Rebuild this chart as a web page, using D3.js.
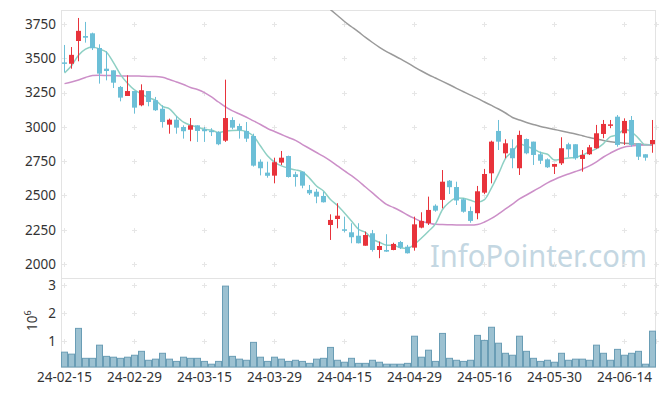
<!DOCTYPE html>
<html>
<head>
<meta charset="utf-8">
<script src="https://cdn.jsdelivr.net/npm/d3@7"></script>
<style>
  body { margin: 0; background: #fff; }
  svg { display: block; font-family: 'Noto Sans', sans-serif; }
</style>
</head>
<body>
<svg id="chart" width="665" height="396"></svg>
<script>
// trading days
let dates = [
  '24-02-15','24-02-16','24-02-19','24-02-20','24-02-21','24-02-22','24-02-23','24-02-26','24-02-27','24-02-28',
  '24-02-29','24-03-04','24-03-05','24-03-06','24-03-07','24-03-08','24-03-11','24-03-12','24-03-13','24-03-14',
  '24-03-15','24-03-18','24-03-19','24-03-20','24-03-21','24-03-22','24-03-25','24-03-26','24-03-27','24-03-28',
  '24-03-29','24-04-01','24-04-02','24-04-03','24-04-04','24-04-05','24-04-08','24-04-09','24-04-11','24-04-12',
  '24-04-15','24-04-16','24-04-17','24-04-18','24-04-19','24-04-22','24-04-23','24-04-24','24-04-25','24-04-26',
  '24-04-29','24-04-30','24-05-02','24-05-03','24-05-07','24-05-08','24-05-09','24-05-10','24-05-13','24-05-14',
  '24-05-16','24-05-17','24-05-20','24-05-21','24-05-22','24-05-23','24-05-24','24-05-27','24-05-28','24-05-29',
  '24-05-30','24-05-31','24-06-03','24-06-04','24-06-05','24-06-07','24-06-10','24-06-11','24-06-12','24-06-13',
  '24-06-14','24-06-17','24-06-18','24-06-19','24-06-20'
]

let opens = [
  3470,3460,3626,3662,3682,3575,3424,3412,3291,3225,
  3261,3157,3261,3194,3132,3016,3052,2999,2979,3011,
  2982,2972,2962,2899,3050,3006,2970,2933,2746,2666,
  2644,2739,2787,2654,2673,2540,2527,2496,2284,2328,
  2253,2231,2206,2133,2224,2102,2102,2102,2160,2126,
  2119,2265,2297,2425,2467,2607,2561,2472,2386,2370,
  2520,2661,2970,2807,2844,2698,2911,2892,2800,2763,
  2709,2734,2873,2873,2766,2800,2844,2948,3010,3074,
  2953,3050,2880,2800,2873
]
let closes = [
  3465,3525,3700,3650,3573,3388,3407,3322,3213,3261,
  3140,3267,3181,3121,3035,3052,2994,2968,3011,2970,
  2968,2968,2873,3064,2994,2975,2914,2717,2698,2643,
  2742,2775,2634,2634,2571,2515,2491,2450,2321,2352,
  2248,2195,2151,2211,2102,2131,2090,2146,2119,2078,
  2289,2314,2394,2389,2600,2560,2463,2381,2314,2530,
  2656,2892,2892,2880,2771,2941,2807,2795,2753,2705,
  2729,2844,2836,2771,2795,2851,2953,3021,3018,2868,
  3043,2868,2782,2775,2904
]
let highs = [
  3597,3582,3794,3765,3687,3602,3551,3412,3298,3376,
  3261,3310,3261,3218,3157,3060,3077,3011,3064,3011,
  2999,2990,2968,3344,3070,3023,3035,2950,2763,2746,
  2775,2824,2790,2673,2673,2576,2547,2527,2362,2443,
  2345,2297,2297,2236,2248,2163,2217,2155,2168,2139,
  2345,2377,2491,2435,2685,2612,2600,2480,2418,2569,
  2693,2899,3050,2909,2909,2972,2915,2892,2819,2770,
  2729,2924,2884,2873,2831,2868,3014,3050,3050,3086,
  3062,3079,2880,2800,3050
]
let lows = [
  3400,3424,3478,3614,3560,3315,3339,3283,3186,3225,
  3096,3150,3150,3116,2994,2950,2950,2914,2895,2890,
  2890,2933,2866,2890,2982,2914,2890,2710,2646,2629,
  2588,2722,2630,2564,2552,2503,2443,2448,2175,2260,
  2231,2151,2150,2133,2090,2042,2088,2100,2109,2076,
  2097,2260,2284,2381,2406,2510,2430,2374,2301,2326,
  2510,2588,2831,2771,2698,2649,2800,2722,2729,2700,
  2656,2722,2778,2760,2673,2795,2840,2917,2990,2855,
  2868,2855,2758,2753,2811
]

// volume, millions of shares
let volumes = [
  0.60,0.53,1.45,0.38,0.38,0.85,0.45,0.42,0.38,0.42,
  0.49,0.63,0.31,0.35,0.56,0.35,0.27,0.42,0.38,0.38,
  0.27,0.17,0.27,2.96,0.45,0.35,0.31,0.95,0.42,0.27,
  0.42,0.35,0.27,0.31,0.27,0.20,0.35,0.38,0.77,0.31,
  0.24,0.38,0.20,0.20,0.31,0.24,0.17,0.17,0.17,0.20,
  1.17,0.42,0.67,0.27,1.27,0.38,0.31,0.27,0.31,1.20,
  1.02,1.49,0.92,0.56,0.49,1.17,0.63,0.38,0.27,0.31,
  0.24,0.56,0.31,0.35,0.35,0.31,0.85,0.56,0.31,0.70,
  0.49,0.56,0.63,0.17,1.35
]

// moving averages
let ma5 = [
  3393,3445,3522,3566,3583,3567,3544,3468,3381,3318,
  3269,3241,3212,3194,3149,3131,3077,3034,3012,2999,
  2982,2977,2958,2969,2974,2975,2964,2933,2860,2789,
  2743,2715,2698,2686,2671,2626,2569,2532,2470,2426,
  2372,2313,2253,2231,2181,2158,2137,2136,2118,2113,
  2144,2189,2239,2293,2397,2451,2481,2479,2464,2450,
  2469,2555,2657,2770,2818,2875,2858,2839,2813,2800,
  2758,2765,2773,2777,2795,2819,2841,2878,2928,2942,
  2981,2964,2916,2867,2874
]
let ma20 = [
  3315,3327,3342,3360,3374,3376,3374,3373,3371,3371,
  3371,3369,3367,3367,3361,3345,3327,3309,3287,3272,
  3250,3218,3181,3145,3116,3094,3070,3043,3017,2988,
  2966,2944,2922,2901,2871,2842,2813,2784,2751,2715,
  2678,2645,2605,2561,2518,2474,2434,2412,2386,2357,
  2332,2310,2299,2289,2288,2286,2284,2284,2284,2288,
  2306,2332,2365,2401,2437,2474,2503,2532,2561,2591,
  2616,2638,2656,2674,2693,2715,2744,2780,2809,2835,
  2853,2860,2866,2868,2868
]
// ma60 only from day 37 on (earlier values are above the chart)
let ma60Start = 37
let ma60 = [
  3897,3855,3812,3768,3730,3692,3652,3615,3580,3549,
  3522,3495,3466,3436,3407,3380,3356,3332,3307,3281,
  3256,3231,3207,3181,3156,3130,3101,3068,3050,3032,
  3017,3003,2992,2981,2970,2959,2948,2935,2922,2911,
  2900,2892,2885,2880,2876,2874,2871,2868
]

let priceTicks = [2000, 2250, 2500, 2750, 3000, 3250, 3500, 3750]
let volumeTicks = [1, 2, 3]
let dateTicks = ['24-02-15','24-02-29','24-03-15','24-03-29','24-04-15','24-04-29','24-05-16','24-05-30','24-06-14']

let left = 61, right = 656
let mainTop = 10, mainBottom = 270
let volTop = 278, volBottom = 367

let svg = d3.select('#chart')

let xScale = d3.scaleBand().domain(dates).range([left, right]).padding(0)
let cx = d => xScale(d) + xScale.bandwidth() / 2

let yPrice = d3.scaleLinear().domain([1956, 3852]).range([mainBottom, mainTop])
let yVol = d3.scaleLinear().domain([0.07, 3.25]).range([volBottom, volTop])

let rows = dates.map((d, i) => ({
  date: d, open: opens[i], close: closes[i], high: highs[i], low: lows[i],
  vol: volumes[i], ma5: ma5[i], ma20: ma20[i],
  ma60: i >= ma60Start ? ma60[i - ma60Start] : null
}))

svg.append('defs').append('clipPath').attr('id', 'clipMain')
  .append('rect').attr('x', left).attr('y', mainTop)
  .attr('width', right - left).attr('height', mainBottom - mainTop)

// watermark
svg.append('text')
  .text('InfoPointer.com')
  .attr('x', 430)
  .attr('y', 267)
  .attr('font-family', "'Noto Sans', sans-serif")
  .attr('font-size', 30)
  .attr('textLength', 217)
  .attr('lengthAdjust', 'spacingAndGlyphs')
  .attr('fill', '#c4d7e2')

// grid crosses
let gridX = dateTicks.map(cx).concat([right])
function crosses(ys) {
  gridX.forEach(gx => {
    ys.forEach(gy => {
      svg.append('path')
        .attr('d', `M${gx - 2.5},${gy}H${gx + 2.5}M${gx},${gy - 2.5}V${gy + 2.5}`)
        .attr('stroke', '#e6e6e6')
        .attr('stroke-width', 1)
        .attr('shape-rendering', 'crispEdges')
    })
  })
}
crosses(priceTicks.map(yPrice).map(Math.round))
crosses(volumeTicks.map(yVol).map(Math.round))

// frame
let frame = svg.append('g')
  .attr('stroke', '#e3e3e3')
  .attr('fill', 'none')
  .attr('shape-rendering', 'crispEdges')
frame.append('path').attr('d', `M${left + 0.5},${mainTop}V${volBottom}`)
frame.append('path').attr('d', `M${right - 0.5},${mainTop}V${volBottom}`)
frame.append('path').attr('d', `M${left},${mainTop + 0.5}H${right}`)
frame.append('path').attr('d', `M${left},${volTop + 0.5}H${right}`)
frame.append('path').attr('d', `M${left},${volBottom + 0.5}H${right}`)

// moving averages
let plot = svg.append('g').attr('clip-path', 'url(#clipMain)')
let maLines = [
  { key: 'ma60', color: '#9a9a9a' },
  { key: 'ma20', color: '#cc8fc8' },
  { key: 'ma5', color: '#8ed0c4' }
]
maLines.forEach(m => {
  let line = d3.line()
    .defined(d => d[m.key] != null)
    .x(d => cx(d.date))
    .y(d => yPrice(d[m.key]))
    .curve(d3.curveMonotoneX)
  plot.append('path')
    .datum(rows)
    .attr('d', line)
    .attr('fill', 'none')
    .attr('stroke', m.color)
    .attr('stroke-width', 1.5)
})

// candles
let red = '#e8333b', blue = '#6cbfd7'
let candles = plot.selectAll('.candle')
  .data(rows)
  .enter()
  .append('g')
  .attr('class', 'candle')
  .attr('fill', d => d.close >= d.open ? red : blue)
  .attr('stroke', d => d.close >= d.open ? red : blue)

candles.append('line')
  .attr('x1', d => cx(d.date))
  .attr('x2', d => cx(d.date))
  .attr('y1', d => yPrice(d.high))
  .attr('y2', d => yPrice(d.low))
  .attr('stroke-width', 1)

candles.append('rect')
  .attr('x', d => xScale(d.date) + 1)
  .attr('width', xScale.bandwidth() - 2)
  .attr('y', d => yPrice(Math.max(d.open, d.close)))
  .attr('height', d => Math.max(1.5, Math.abs(yPrice(d.open) - yPrice(d.close))))
  .attr('stroke', 'none')

// volume bars
svg.selectAll('.vol')
  .data(rows)
  .enter()
  .append('rect')
  .attr('class', 'vol')
  .attr('x', d => xScale(d.date) + 0.5)
  .attr('width', xScale.bandwidth() - 1)
  .attr('y', d => yVol(d.vol))
  .attr('height', d => volBottom - yVol(d.vol))
  .attr('fill', '#9cc1d1')
  .attr('stroke', '#6a9db5')
  .attr('stroke-width', 1)

// axes
let yAxis = svg.append('g')
  .attr('transform', `translate(${left},0)`)
  .call(d3.axisLeft(yPrice).tickValues(priceTicks).tickFormat(d3.format('d')).tickSize(0).tickPadding(5))
let vAxis = svg.append('g')
  .attr('transform', `translate(${left},0)`)
  .call(d3.axisLeft(yVol).tickValues(volumeTicks).tickFormat(d3.format('d')).tickSize(0).tickPadding(5))
let xAxis = svg.append('g')
  .attr('transform', `translate(0,${volBottom})`)
  .call(d3.axisBottom(xScale).tickValues(dateTicks).tickSize(0).tickPadding(5))

;[yAxis, vAxis, xAxis].forEach(a => {
  a.select('.domain').remove()
  a.selectAll('text')
    .attr('font-family', "'Noto Sans', sans-serif")
    .attr('font-size', 13.5)
    .attr('fill', '#333')
})

// volume unit label
let unit = svg.append('text')
  .attr('transform', 'translate(37,331) rotate(-90)')
  .attr('font-size', 13.5)
  .attr('fill', '#333')
unit.append('tspan').text('10')
unit.append('tspan').text('6').attr('font-size', 9).attr('dy', -6)
</script>
</body>
</html>
